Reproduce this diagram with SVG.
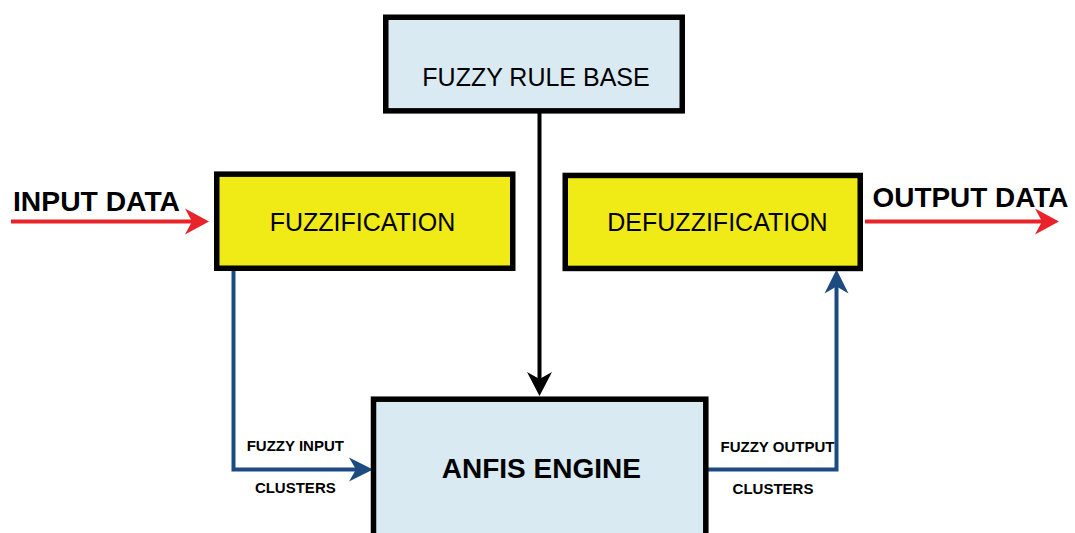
<svg xmlns="http://www.w3.org/2000/svg" width="1075" height="533" viewBox="0 0 1075 533">
  <style>
    .box { stroke: #000; stroke-width: 5.5; }
    .blue-box { fill: #d9eaf3; }
    .yellow-box { fill: #f0ea16; }
    .label { font-family: "Liberation Sans", Arial, sans-serif; fill: #000; }
    .node-text { font-size: 25px; text-anchor: middle; }
    .io-text { font-size: 28px; font-weight: bold; }
    .small-text { font-size: 15px; font-weight: bold; text-anchor: middle; }
    .wire { fill: none; stroke-width: 4; stroke-linejoin: miter; }
    .black { stroke: #000; }
    .red { stroke: #e8232a; }
    .navy { stroke: #1c4b82; }
  </style>
  <defs>
    <!-- notched arrowheads; tip sits 15px past the line end -->
    <marker id="head-black" markerUnits="userSpaceOnUse" viewBox="-10 -13 26 26" markerWidth="26" markerHeight="26" refX="0" refY="0" orient="auto" overflow="visible">
      <path d="M15,0 L-9,-12.5 L-2,0 L-9,12.5 Z" fill="#000"/>
    </marker>
    <marker id="head-red" markerUnits="userSpaceOnUse" viewBox="-10 -13 26 26" markerWidth="26" markerHeight="26" refX="0" refY="0" orient="auto" overflow="visible">
      <path d="M15,0 L-9,-13 L-2,0 L-9,13 Z" fill="#e8232a"/>
    </marker>
    <marker id="head-navy" markerUnits="userSpaceOnUse" viewBox="-10 -13 26 26" markerWidth="26" markerHeight="26" refX="0" refY="0" orient="auto" overflow="visible">
      <path d="M15,0 L-9,-12 L-2,0 L-9,12 Z" fill="#1c4b82"/>
    </marker>
  </defs>

  <rect x="0" y="0" width="1075" height="533" fill="#fff"/>

  <!-- connectors -->
  <g id="connectors">
    <path class="wire black" d="M539.5,113 V381" marker-end="url(#head-black)"/>
    <path class="wire red" d="M11,221.5 H194" marker-end="url(#head-red)"/>
    <path class="wire red" d="M865,221.5 H1044" marker-end="url(#head-red)"/>
    <path class="wire navy" d="M233.5,268 V469.5 H358" marker-end="url(#head-navy)"/>
    <path class="wire navy" d="M708,469.5 H836.5 V284.5" marker-end="url(#head-navy)"/>
  </g>

  <!-- nodes -->
  <g id="rule-base">
    <rect class="box blue-box" x="385.75" y="17.25" width="296.5" height="93.6"/>
    <text class="label node-text" x="536" y="86">FUZZY RULE BASE</text>
  </g>

  <g id="fuzzification">
    <rect class="box yellow-box" x="216.75" y="174.15" width="296" height="94.1"/>
    <text class="label node-text" x="362.5" y="231.3">FUZZIFICATION</text>
  </g>

  <g id="defuzzification">
    <rect class="box yellow-box" x="565.25" y="175.45" width="295" height="93"/>
    <text class="label node-text" x="717.5" y="230.6">DEFUZZIFICATION</text>
  </g>

  <g id="anfis-engine">
    <rect class="box blue-box" x="373.5" y="399.2" width="332.3" height="150" stroke-width="5"/>
    <text class="label" x="541.3" y="478.3" font-size="28" font-weight="bold" text-anchor="middle">ANFIS ENGINE</text>
  </g>

  <g id="input-data">
    <text class="label io-text" x="13" y="211" textLength="167" lengthAdjust="spacingAndGlyphs">INPUT DATA</text>
  </g>

  <g id="output-data">
    <text class="label io-text" x="872.5" y="206.5" textLength="196" lengthAdjust="spacingAndGlyphs">OUTPUT DATA</text>
  </g>

  <g id="edge-labels">
    <text class="label small-text" x="295.3" y="450.7">FUZZY INPUT</text>
    <text class="label small-text" x="295.3" y="493.3">CLUSTERS</text>
    <text class="label small-text" x="777.5" y="452.3">FUZZY OUTPUT</text>
    <text class="label small-text" x="773" y="494">CLUSTERS</text>
  </g>
</svg>
